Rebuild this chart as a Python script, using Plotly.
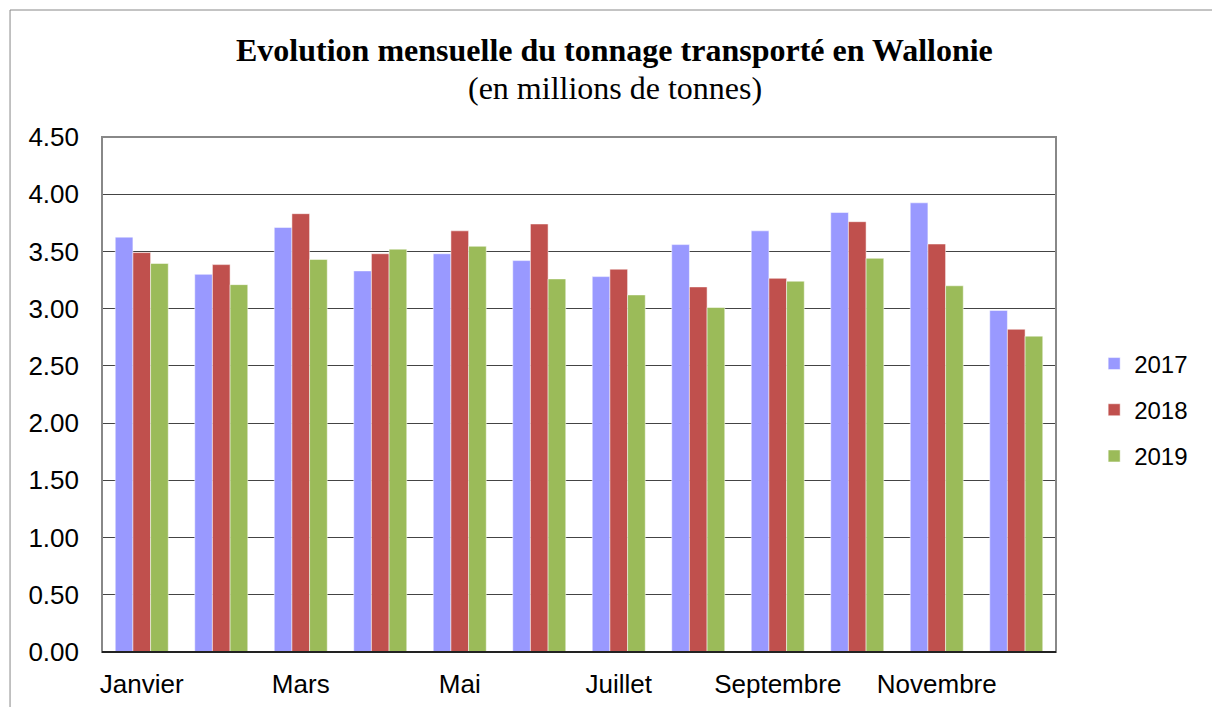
import plotly.graph_objects as go

months = ["Janvier", "Février", "Mars", "Avril", "Mai", "Juin", "Juillet",
          "Août", "Septembre", "Octobre", "Novembre", "Décembre"]
tick_months = ["Janvier", "Mars", "Mai", "Juillet", "Septembre", "Novembre"]
y2017 = [3.625, 3.30, 3.71, 3.33, 3.48, 3.42, 3.28, 3.56, 3.68, 3.84, 3.925, 2.985]
y2018 = [3.49, 3.385, 3.83, 3.48, 3.68, 3.74, 3.345, 3.19, 3.265, 3.76, 3.565, 2.82]
y2019 = [3.395, 3.21, 3.43, 3.52, 3.545, 3.26, 3.12, 3.01, 3.24, 3.44, 3.20, 2.76]
series = [("2017", y2017, "#9999FF"), ("2018", y2018, "#C0504D"), ("2019", y2019, "#9BBB59")]

fig = go.Figure()
for name, vals, col in series:
    fig.add_trace(go.Bar(x=months, y=vals, name=name, marker_color=col,
                         legendgroup=name,
                         marker_line=dict(color="rgba(255,255,255,0.5)", width=1)))

font_sans = "Liberation Sans, Arial, sans-serif"
font_serif = "Liberation Serif, Times New Roman, serif"

fig.update_layout(
    width=1220, height=707,
    margin=dict(l=94, r=172, t=129, b=63),
    paper_bgcolor="white", plot_bgcolor="white",
    barmode="group", bargap=0.333, bargroupgap=0,
    font=dict(family=font_sans, size=24, color="black"),
    showlegend=True,
    legend=dict(x=1.04, y=0.47, xanchor="left", yanchor="middle",
                font=dict(family=font_sans, size=24), tracegroupgap=12,
                bgcolor="rgba(0,0,0,0)"),
    xaxis=dict(tickmode="array", tickvals=tick_months, ticktext=tick_months,
               categoryorder="array", categoryarray=months,
               showline=True, linecolor="black", linewidth=1, mirror=False,
               ticks="", tickfont=dict(size=26, family=font_sans),
               ticklabelstandoff=9, showgrid=False),
    yaxis=dict(range=[0, 4.5], dtick=0.5, tickformat=".2f",
               showgrid=True, gridcolor="#444444", gridwidth=1,
               showline=False, zeroline=False, ticks="",
               tickfont=dict(size=26, family=font_sans),
               ticklabelstandoff=22),
    annotations=[
        dict(text="<b>Evolution mensuelle du tonnage transporté en Wallonie</b>",
             xref="paper", yref="paper", x=0.5377, y=1.169, xanchor="center",
             yanchor="middle", showarrow=False,
             font=dict(family=font_serif, size=32, color="black")),
        dict(text="(en millions de tonnes)",
             xref="paper", yref="paper", x=0.5377, y=1.095, xanchor="center",
             yanchor="middle", showarrow=False,
             font=dict(family=font_serif, size=32, color="black")),
    ],
    shapes=[
        dict(type="rect", xref="paper", yref="paper",
             x0=-0.0964, x1=1.1709, y0=-0.2, y1=1.2466,
             line=dict(color="#888888", width=1), layer="below"),
        dict(type="rect", xref="paper", yref="paper",
             x0=0, x1=1, y0=0, y1=1,
             line=dict(color="#888888", width=2), layer="above"),
        dict(type="line", xref="paper", yref="paper",
             x0=0, x1=1, y0=0, y1=0,
             line=dict(color="#222222", width=2), layer="above"),
    ],
)

fig.write_html("out.html")
